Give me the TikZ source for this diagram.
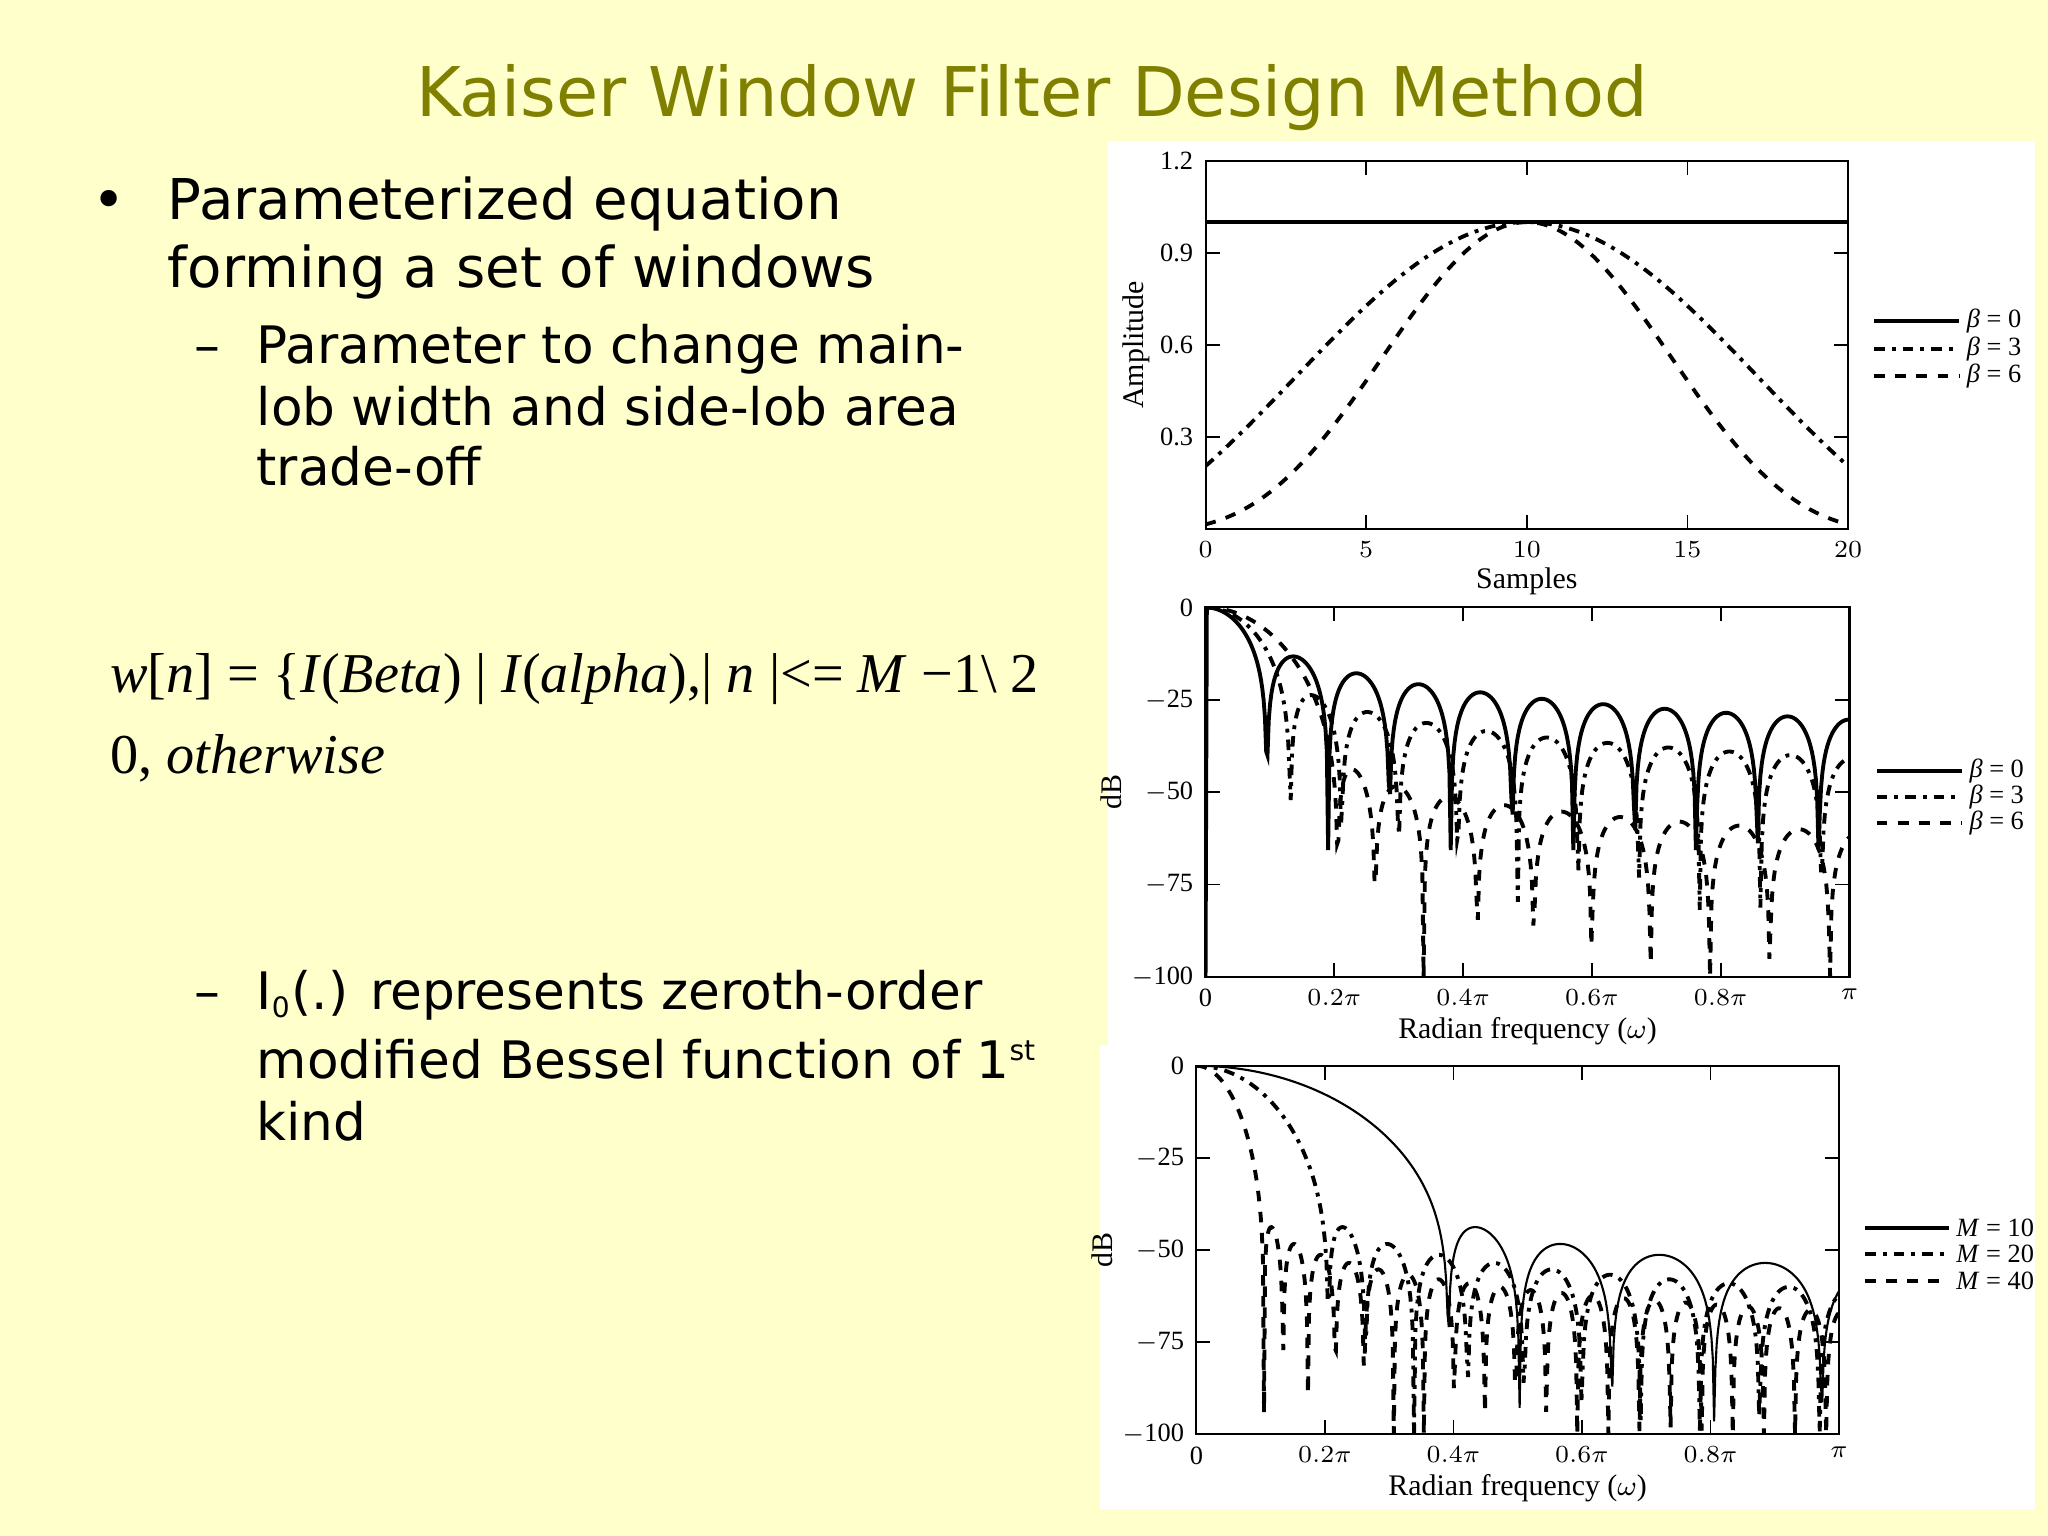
\documentclass[tikz,border=0pt]{standalone}
\usepackage{fontspec}
\usepackage{pgfplots}
\pgfplotsset{compat=1.18}
\setmainfont{DejaVu Sans}
\newfontfamily\tms{Liberation Serif}
\definecolor{bgy}{RGB}{255,255,204}
\definecolor{olive}{RGB}{128,128,0}
\tikzset{declare function={
    Izero(\z)=1+((\z/2)^2)*(1+((\z/2)^2)/4*(1+((\z/2)^2)/9*(1+((\z/2)^2)/16*(1+((\z/2)^2)/25*(1+((\z/2)^2)/36*(1+((\z/2)^2)/49*(1+((\z/2)^2)/64*(1+((\z/2)^2)/81*(1+((\z/2)^2)/100*(1+((\z/2)^2)/121*(1+((\z/2)^2)/144)))))))))));
    sfun(\u,\b)=sqrt(abs(\b*\b-\u*\u))+1e-9;
    kw(\u,\b)=ifthenelse(\u<\b, sinh(min(sfun(\u,\b),30))/sfun(\u,\b), sin(deg(sfun(\u,\b)))/sfun(\u,\b));
    kdb(\x,\b,\L,\nm)=max(-100,20*log10(abs(kw(\L*pi*\x/2,\b))/\nm+1e-8));
  }}
\pgfplotsset{
  kax/.style={scale only axis, axis line style={line width=0.6pt}, tick style={line width=0.5pt,black},
    tick align=inside, major tick length=4pt, ticklabel style={font=\tms\fontsize{7.5}{8}\selectfont},
    label style={font=\tms\fontsize{8.5}{9}\selectfont}, clip=true}
}
\tikzset{lg/.style={line width=1.1pt}, lgt/.style={anchor=west,inner sep=2pt,font=\tms\fontsize{7.5}{8}\selectfont},
  btxt/.style={anchor=base west,inner sep=0pt,font=\fontsize{16}{19}\selectfont},
  stxt/.style={anchor=base west,inner sep=0pt,font=\fontsize{14.7}{17}\selectfont}}
\begin{document}
\begin{tikzpicture}[x=0.013061cm,y=-0.013061cm]
\fill[bgy] (0,0) rectangle (1568,1176);
\useasboundingbox (0,0) rectangle (1568,1176);
\node[font=\fontsize{19.5}{24}\selectfont, text=olive] (title) at (790,75) {Kaiser Window Filter Design Method};
\node[btxt] (b1) at (70,168) {•};
\node[btxt] (t1) at (128,168) {Parameterized equation};
\node[btxt] (t2) at (128,220) {forming a set of windows};
\node[stxt] (d1) at (148,278) {–};
\node[stxt] (s1) at (196,278) {Parameter to change main-};
\node[stxt] (s2) at (196,326) {lob width and side-lob area};
\node[stxt] (s3) at (196,372) {trade-off};
\node[anchor=base west,inner sep=0pt,font=\tms\fontsize{16}{20}\selectfont] (eq1) at (84,530) {\textit{w}[\textit{n}] = \{\textit{I}(\textit{Beta}) | \textit{I}(\textit{alpha}),| \textit{n} |<= \textit{M} −1\textbackslash\ 2};
\node[anchor=base west,inner sep=0pt,font=\tms\fontsize{16}{20}\selectfont] (eq2) at (84,592) {0, \textit{otherwise}};
\node[stxt] (d2) at (148,773) {–};
\node[stxt] (u1) at (196,773) {I\textsubscript{\fontsize{8}{8}\selectfont 0}(.) represents zeroth-order};
\node[stxt] (u2) at (196,826) {modified Bessel function of 1\textsuperscript{\fontsize{8}{8}\selectfont st}};
\node[stxt] (u3) at (196,873) {kind};
% panels
\fill[white] (848,108) rectangle (1558,800);
\fill[white] (842,800) rectangle (1558,1155);
\coordinate (p1) at (923,405);
\coordinate (p2) at (923,748);
\coordinate (p3) at (916,1098);
\begin{axis}[kax, at={(p1)}, anchor=south west, width=6.426cm, height=3.683cm,
  xmin=0,xmax=20,ymin=0,ymax=1.2, xtick={0,5,10,15,20}, ytick={0,0.3,0.6,0.9,1.2},
  yticklabels={,0.3,0.6,0.9,1.2}, xlabel={Samples}, ylabel={Amplitude},
  xlabel style={yshift=4pt}, ylabel style={yshift=-4pt}]
\addplot[line width=1.1pt,domain=0:20] {1};
\addplot[line width=1.1pt,dash dot,domain=0:20,samples=120] {Izero(3*sqrt(max(0,1-((x-10)/10)^2)))/Izero(3)};
\addplot[line width=1.1pt,dashed,domain=0:20,samples=120] {Izero(6*sqrt(max(0,1-((x-10)/10)^2)))/Izero(6)};
\end{axis}
\begin{axis}[kax, at={(p2)}, anchor=south west, width=6.439cm, height=3.696cm,
  xmin=0,xmax=1,ymin=-100,ymax=0, xtick={0,0.2,0.4,0.6,0.8,1},
  xticklabels={0,$0.2\pi$,$0.4\pi$,$0.6\pi$,$0.8\pi$,$\pi$}, ytick={-100,-75,-50,-25,0},
  yticklabels={$-$100,$-$75,$-$50,$-$25,0},
  xlabel={Radian frequency ($\omega$)}, ylabel={dB}, xlabel style={yshift=4pt}, ylabel style={yshift=-4pt}]
\addplot[line width=1.1pt,domain=0:1,samples=500] {kdb(x,0,21,1)};
\addplot[line width=1.1pt,dash dot,domain=0:1,samples=500] {kdb(x,3,21,sinh(3)/3)};
\addplot[line width=1.1pt,dashed,domain=0:1,samples=500] {kdb(x,6,21,sinh(6)/6)};
\end{axis}
\begin{axis}[kax, at={(p3)}, anchor=south west, width=6.426cm, height=3.683cm,
  xmin=0,xmax=1,ymin=-100,ymax=0, xtick={0,0.2,0.4,0.6,0.8,1},
  xticklabels={0,$0.2\pi$,$0.4\pi$,$0.6\pi$,$0.8\pi$,$\pi$}, ytick={-100,-75,-50,-25,0},
  yticklabels={$-$100,$-$75,$-$50,$-$25,0},
  xlabel={Radian frequency ($\omega$)}, ylabel={dB}, xlabel style={yshift=4pt}, ylabel style={yshift=-4pt}]
\addplot[line width=0.6pt,domain=0:1,samples=500] {kdb(x,6,11,sinh(6)/6)};
\addplot[line width=1.1pt,dash dot,domain=0:1,samples=500] {kdb(x,6,21,sinh(6)/6)};
\addplot[line width=1.1pt,dashed,domain=0:1,samples=600] {kdb(x,6,41,sinh(6)/6)};
\end{axis}
% legends
\coordinate (la1) at (1435,246); \coordinate (lb1) at (1500,246);
\coordinate (la2) at (1435,267); \coordinate (lb2) at (1500,267);
\coordinate (la3) at (1435,288); \coordinate (lb3) at (1500,288);
\draw[lg] (la1) -- (lb1); \draw[lg,dash dot] (la2) -- (lb2); \draw[lg,dashed] (la3) -- (lb3);
\node[lgt] (g1) at (lb1) {\textit{β} = 0}; \node[lgt] (g2) at (lb2) {\textit{β} = 3}; \node[lgt] (g3) at (lb3) {\textit{β} = 6};
\coordinate (lc1) at (1437,590); \coordinate (ld1) at (1502,590);
\coordinate (lc2) at (1437,610); \coordinate (ld2) at (1502,610);
\coordinate (lc3) at (1437,630); \coordinate (ld3) at (1502,630);
\draw[lg] (lc1) -- (ld1); \draw[lg,dash dot] (lc2) -- (ld2); \draw[lg,dashed] (lc3) -- (ld3);
\node[lgt] (h1) at (ld1) {\textit{β} = 0}; \node[lgt] (h2) at (ld2) {\textit{β} = 3}; \node[lgt] (h3) at (ld3) {\textit{β} = 6};
\coordinate (le1) at (1428,940); \coordinate (lf1) at (1492,940);
\coordinate (le2) at (1428,960); \coordinate (lf2) at (1492,960);
\coordinate (le3) at (1428,981); \coordinate (lf3) at (1492,981);
\draw[lg] (le1) -- (lf1); \draw[lg,dash dot] (le2) -- (lf2); \draw[lg,dashed] (le3) -- (lf3);
\node[lgt] (k1) at (lf1) {\textit{M} = 10}; \node[lgt] (k2) at (lf2) {\textit{M} = 20}; \node[lgt] (k3) at (lf3) {\textit{M} = 40};
\end{tikzpicture}
\end{document}
